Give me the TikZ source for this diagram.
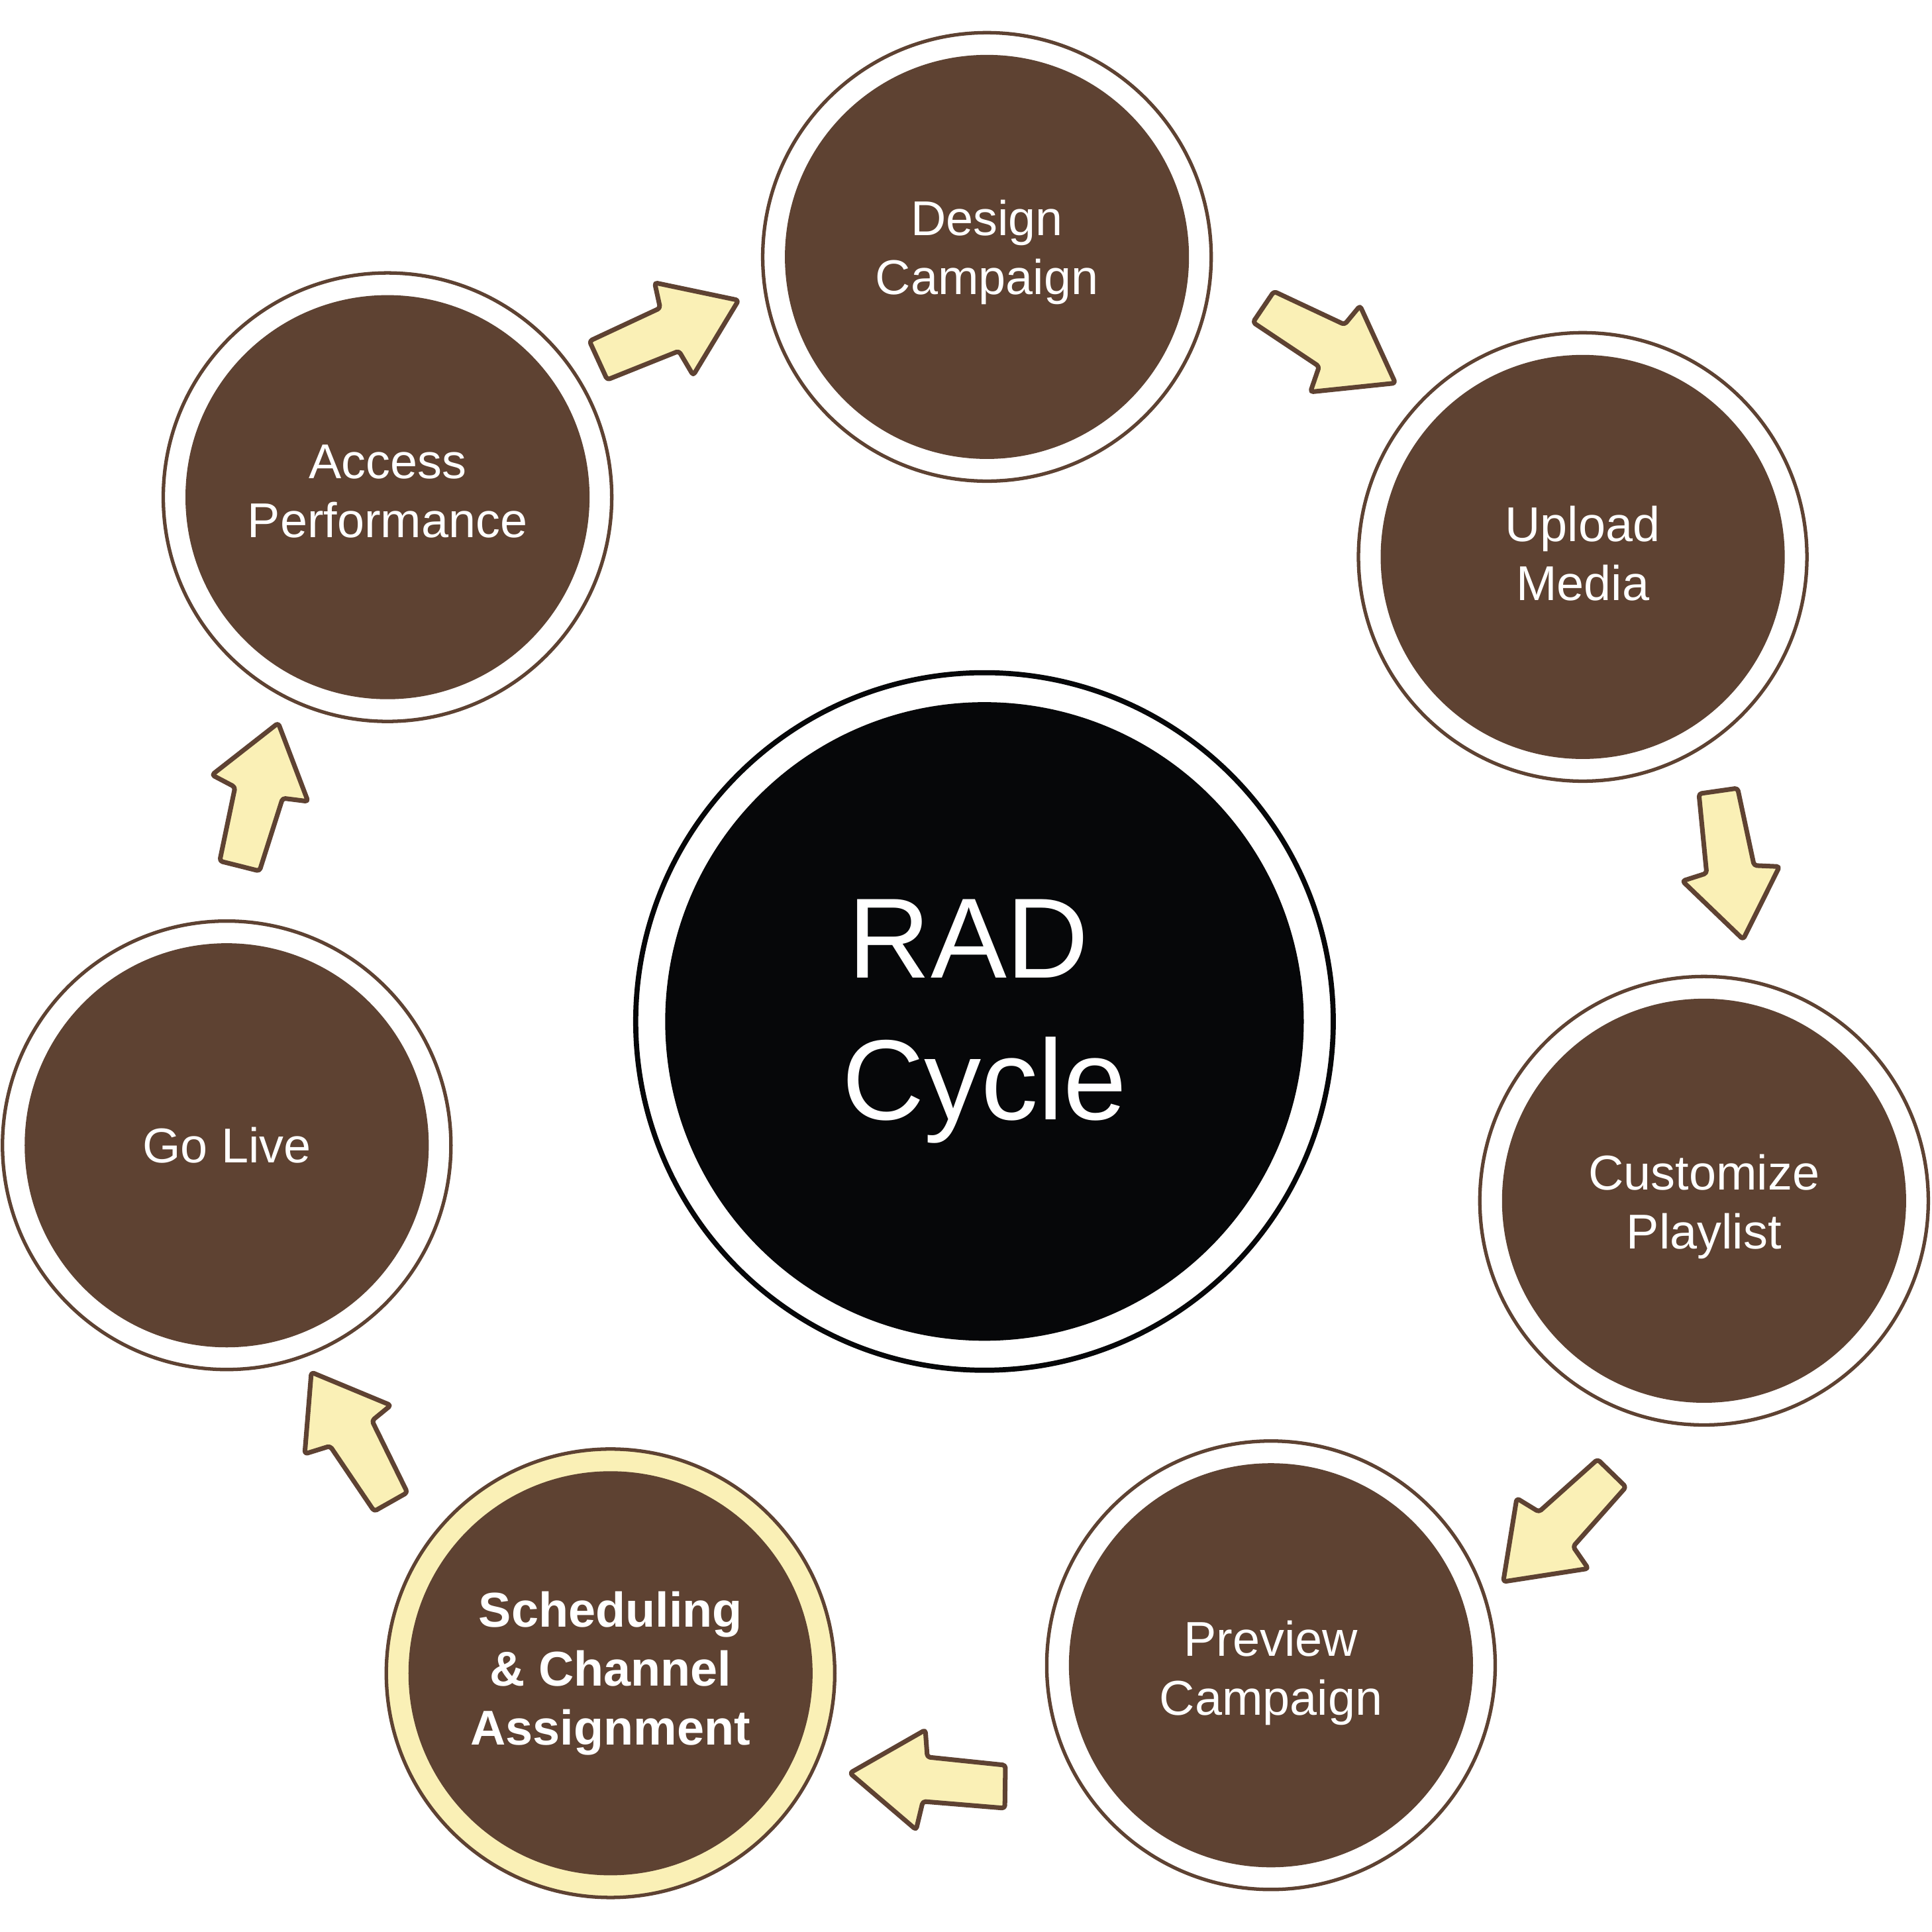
\documentclass[tikz,border=0pt]{standalone}
\usepackage{fontspec}
\setmainfont{Liberation Sans}
\definecolor{brownc}{RGB}{94,66,50}
\definecolor{creamc}{RGB}{250,240,182}
\definecolor{inkc}{RGB}{6,7,9}
\begin{document}
\begin{tikzpicture}[x=0.018603cm, y=-0.018603cm,
  ring/.style={circle, draw=brownc, line width=1.5pt, fill=white, minimum size=6.77cm, inner sep=0pt},
  disc/.style={circle, fill=brownc, minimum size=6.10cm, inner sep=0pt},
  lbl/.style={text=white, align=center, inner sep=0pt, font=\fontsize{21}{25.3}\selectfont},
  flow/.style={draw=brownc, fill=creamc, line width=2pt, line join=round, rounded corners=1.2pt}]

\fill[white] (0,0) rectangle (1568,1568);
\useasboundingbox (0,0) rectangle (1568,1568);

% centre
\node[circle, draw=inkc, line width=2.2pt, fill=white, minimum size=10.53cm, inner sep=0pt] (radring) at (799,829) {};
\node[circle, fill=inkc, minimum size=9.64cm, inner sep=0pt] (rad) at (799,829) {};
\node[lbl, font=\fontsize{49}{61}\selectfont] (radt) at (rad.center) {RAD\rule{0.278em}{0pt}\\Cycle};

% steps
\node[ring] (designring) at (801,208.5) {};
\node[disc] (design) at (801,208.5) {};
\node[lbl, yshift=1.9pt] (designt) at (design.center) {Design\\Campaign};

\node[ring] (uploadring) at (1284.5,452) {};
\node[disc] (upload) at (1284.5,452) {};
\node[lbl, yshift=1.6pt] (uploadt) at (upload.center) {Upload\\Media};

\node[ring] (customring) at (1383,974.5) {};
\node[disc] (custom) at (1383,974.5) {};
\node[lbl, yshift=-2.6pt] (customt) at (custom.center) {Customize\\Playlist};

\node[ring] (previewring) at (1031.5,1351.5) {};
\node[disc] (preview) at (1031.5,1351.5) {};
\node[lbl, yshift=-3.4pt] (previewt) at (preview.center) {Preview\\Campaign};

\node[ring, fill=creamc] (schedring) at (495.5,1358) {};
\node[disc] (sched) at (495.5,1358) {};
\node[lbl, font=\fontsize{21}{25.3}\selectfont\bfseries] (schedt) at (sched.center) {Scheduling\\\& Channel\\Assignment};

\node[ring] (livering) at (184,929.5) {};
\node[disc] (golive) at (184,929.5) {};
\node[lbl] (golivet) at (golive.center) {Go Live};

\node[ring] (accessring) at (314.5,403.5) {};
\node[disc] (access) at (314.5,403.5) {};
\node[lbl, yshift=2.6pt] (accesst) at (access.center) {Access\\Performance};

% block arrows
\draw[flow] (478.4,276.8) -- (535.8,250) -- (531.3,229.4) -- (599.4,243.7) -- (562.6,304.6) -- (551,284.9) -- (492.8,308.2) -- cycle;
\draw[flow] (1033.9,236.5) -- (1091.2,263.4) -- (1103.8,248.2) -- (1132.5,310.9) -- (1063.5,318.1) -- (1070.6,297.4) -- (1016.9,261.6) -- cycle;
\draw[flow] (1378.8,644.2) -- (1410.2,639.7) -- (1423.6,702.4) -- (1444.2,703.3) -- (1414.7,762.4) -- (1365.4,715) -- (1385.1,708.7) -- cycle;
\draw[flow] (1296.6,1184.4) -- (1319.6,1206.8) -- (1276.7,1255.2) -- (1289,1273) -- (1220,1283.7) -- (1231,1216) -- (1249,1227) -- cycle;
\draw[flow] (689.7,1439) -- (751,1404) -- (752.6,1426) -- (816,1432.6) -- (815.5,1467.5) -- (749,1462) -- (743.5,1485) -- cycle;
\draw[flow] (252.7,1113.7) -- (317.2,1140.5) -- (301.9,1153) -- (330.6,1211.3) -- (303.7,1226.5) -- (267.9,1173.6) -- (247.3,1180) -- cycle;
\draw[flow] (225.8,586.8) -- (250,650.4) -- (229.4,647.8) -- (210.6,706.9) -- (178.3,698.8) -- (190.8,638.8) -- (172,628.9) -- cycle;
\end{tikzpicture}
\end{document}
